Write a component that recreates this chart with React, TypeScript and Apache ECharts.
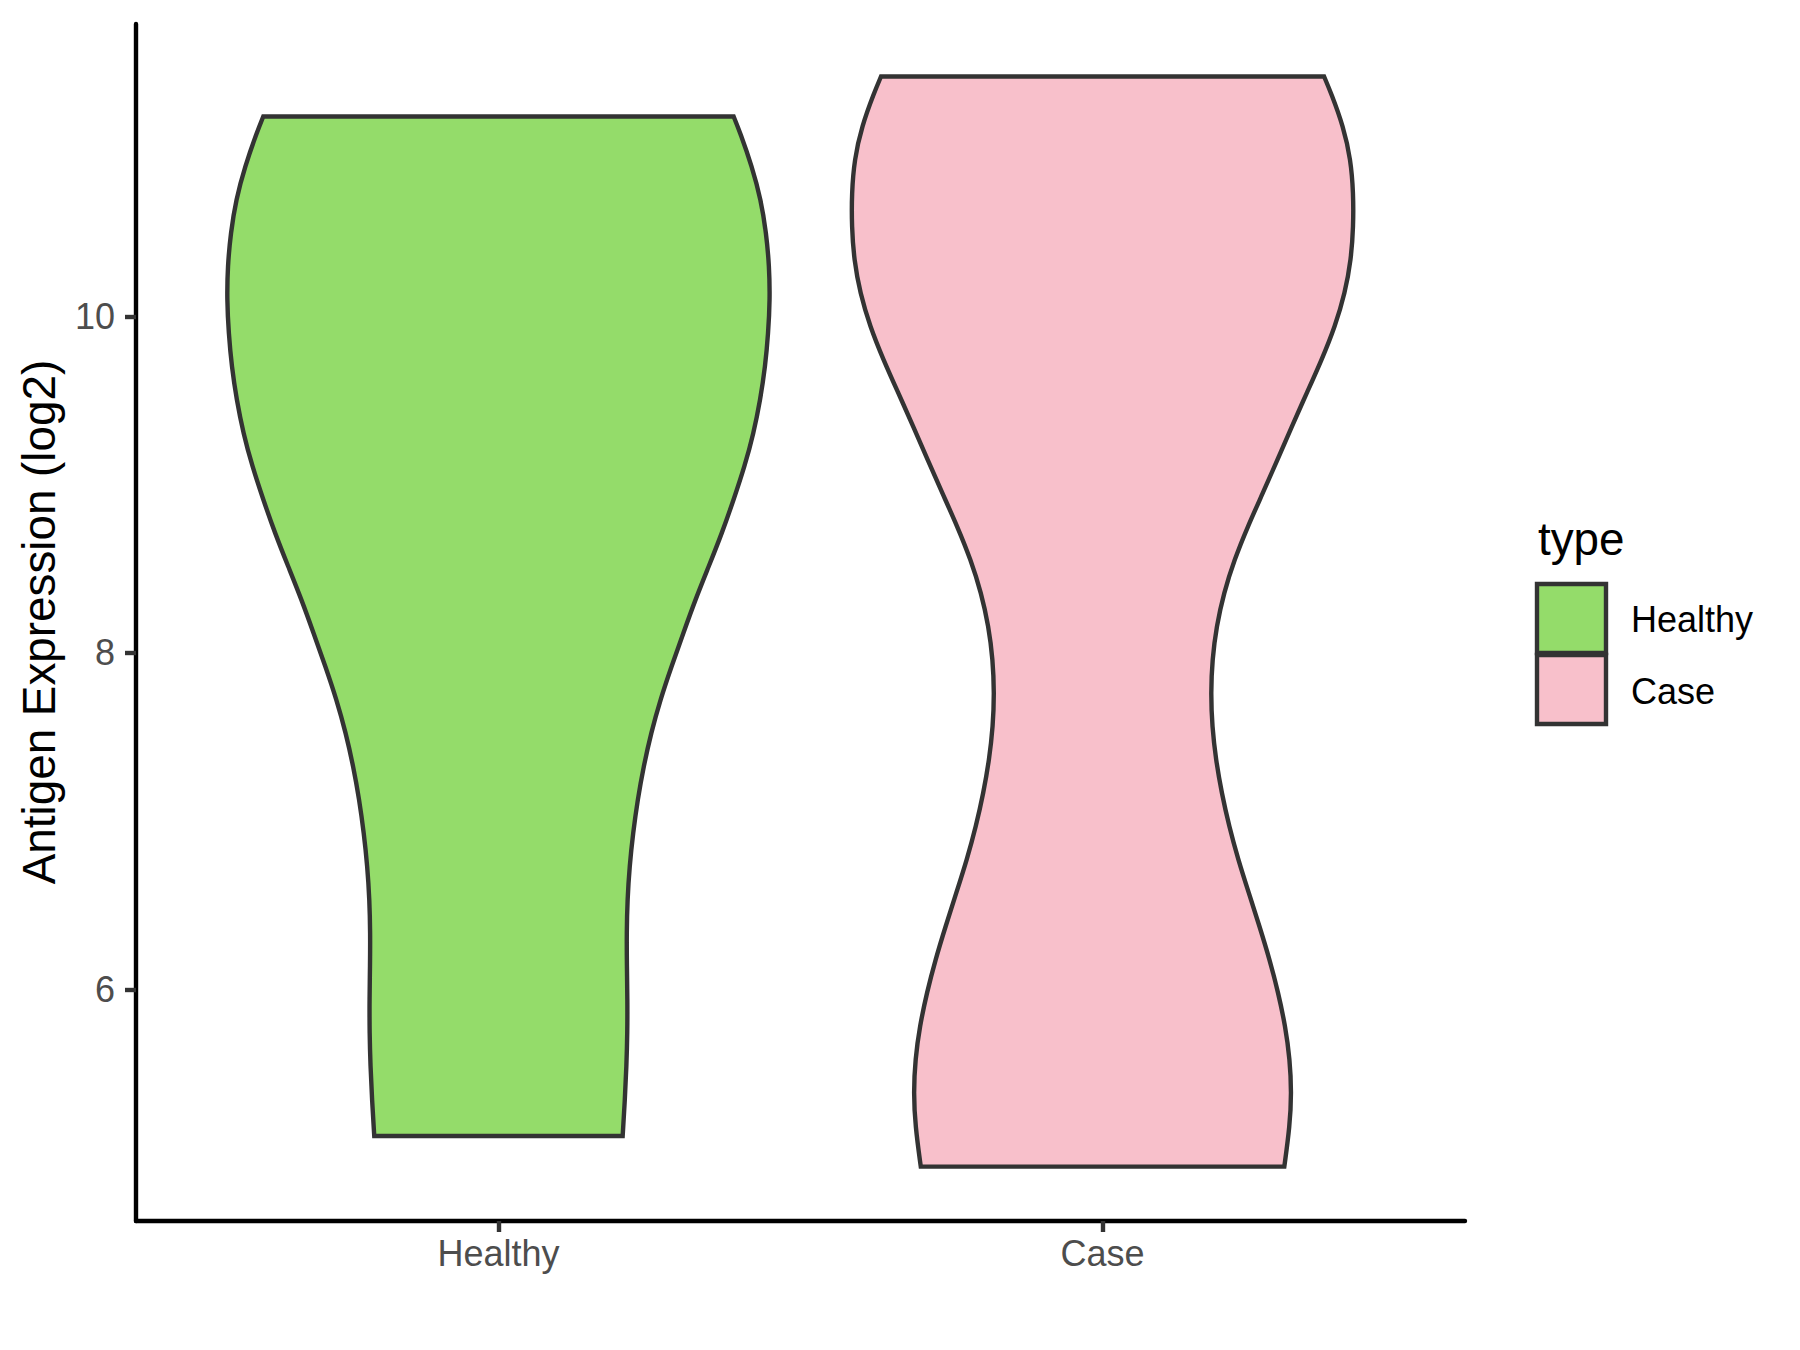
import React, { useEffect, useRef } from "react";
import * as echarts from "echarts";

// ---- data ----
const categories = ["Healthy", "Case"];
const fillColors = ["#94DC6A", "#F8C0CB"];
const yTickValues = [6, 8, 10];
const yTitle = "Antigen Expression (log2)";
const legendTitle = "type";

// violin outline: y values (log2 expression) and half-widths (in category units)
const healthyY = [11.188, 11.09, 10.891, 10.693, 10.495, 10.297, 10.099, 9.901, 9.702, 9.504, 9.306, 9.108, 8.91, 8.712, 8.513, 8.315, 8.117, 7.919, 7.721, 7.523, 7.325, 7.127, 6.929, 6.731, 6.533, 6.335, 6.137, 5.939, 5.741, 5.543, 5.345, 5.128];
const healthyHalfWidth = [0.3893, 0.4003, 0.4196, 0.4345, 0.4433, 0.4483, 0.4494, 0.4466, 0.4416, 0.4334, 0.4224, 0.4075, 0.3893, 0.37, 0.348, 0.3258, 0.306, 0.2864, 0.2679, 0.2526, 0.2403, 0.2304, 0.2228, 0.217, 0.2135, 0.2122, 0.2126, 0.2135, 0.2134, 0.2119, 0.2093, 0.2056];
const caseY = [11.426, 11.328, 11.129, 10.931, 10.733, 10.534, 10.337, 10.139, 9.94, 9.742, 9.544, 9.345, 9.147, 8.949, 8.751, 8.553, 8.355, 8.157, 7.959, 7.761, 7.563, 7.365, 7.167, 6.969, 6.771, 6.573, 6.375, 6.177, 5.979, 5.781, 5.583, 5.385, 5.187, 4.946];
const caseHalfWidth = [0.3667, 0.3783, 0.3986, 0.4109, 0.4152, 0.4152, 0.4114, 0.4014, 0.3849, 0.3628, 0.338, 0.3132, 0.2895, 0.2652, 0.2403, 0.2181, 0.2007, 0.1886, 0.1816, 0.1793, 0.1814, 0.1876, 0.1972, 0.2095, 0.2245, 0.2421, 0.2598, 0.2766, 0.2909, 0.3026, 0.3101, 0.3128, 0.31, 0.3009];

const profiles = [
  { y: healthyY, w: healthyHalfWidth },
  { y: caseY, w: caseHalfWidth },
];

const FONT = "'Liberation Sans', Arial, Helvetica, sans-serif";

// uniform cubic B-spline through the outline's control points (ends clamped)
function bsplineSegments(P: number[][]): string {
  const Q = [P[0], P[0], ...P, P[P.length - 1], P[P.length - 1]];
  let d = "";
  for (let i = 1; i < Q.length - 2; i++) {
    const p0 = Q[i - 1];
    const p1 = Q[i];
    const p2 = Q[i + 1];
    const p3 = Q[i + 2];
    const b1x = (2 * p1[0] + p2[0]) / 3;
    const b1y = (2 * p1[1] + p2[1]) / 3;
    const b2x = (p1[0] + 2 * p2[0]) / 3;
    const b2y = (p1[1] + 2 * p2[1]) / 3;
    const b3x = (p1[0] + 4 * p2[0] + p3[0]) / 6;
    const b3y = (p1[1] + 4 * p2[1] + p3[1]) / 6;
    d += ` C ${b1x} ${b1y} ${b2x} ${b2y} ${b3x} ${b3y}`;
  }
  return d;
}

function makeRenderItem(k: number) {
  return (params: any, api: any) => {
    const center = api.value(0);
    const prof = profiles[k];
    const L = prof.y.map((y, i) => api.coord([center - prof.w[i], y]));
    const R = prof.y.map((y, i) => api.coord([center + prof.w[i], y]));
    const Rrev = R.slice().reverse();
    let d = `M ${R[0][0]} ${R[0][1]} L ${L[0][0]} ${L[0][1]}`;
    d += bsplineSegments(L);
    d += ` L ${Rrev[0][0]} ${Rrev[0][1]}`;
    d += bsplineSegments(Rrev);
    d += " Z";
    return {
      type: "path",
      shape: { pathData: d },
      style: { fill: fillColors[k], stroke: "#333333", lineWidth: 4.4, lineJoin: "miter" },
    };
  };
}

export default function App() {
  const ref = useRef<HTMLDivElement>(null);
  useEffect(() => {
    if (!ref.current) return;
    const chart = echarts.init(ref.current, null, { renderer: "svg" });
    const option: any = {
      animation: false,
      backgroundColor: "#ffffff",
      grid: { left: 136, right: 335, top: 24, bottom: 129, containLabel: false },
      xAxis: {
        type: "value",
        min: 0.4,
        max: 2.6,
        splitLine: { show: false },
        axisLine: { show: true, lineStyle: { color: "#000000", width: 4.4 } },
        axisTick: {
          show: true,
          length: 11,
          customValues: [1, 2],
          lineStyle: { color: "#333333", width: 4.4 },
        },
        axisLabel: {
          customValues: [1, 2],
          formatter: (v: number) => categories[Math.round(v) - 1] || "",
          color: "#4D4D4D",
          fontSize: 36,
          fontFamily: FONT,
          margin: 14,
        },
      },
      yAxis: {
        type: "value",
        min: 4.623,
        max: 11.738,
        splitLine: { show: false },
        axisLine: { show: true, lineStyle: { color: "#000000", width: 4.4 } },
        axisTick: {
          show: true,
          length: 11,
          customValues: yTickValues,
          lineStyle: { color: "#333333", width: 4.4 },
        },
        axisLabel: {
          customValues: yTickValues,
          color: "#4D4D4D",
          fontSize: 36,
          fontFamily: FONT,
          margin: 21,
        },
      },
      series: categories.map((name, k) => ({
        type: "custom",
        name,
        renderItem: makeRenderItem(k),
        data: [[k + 1, 8]],
        clip: false,
      })),
      graphic: [
        {
          type: "text",
          x: 39,
          y: 622,
          rotation: Math.PI / 2,
          style: {
            text: yTitle,
            fill: "#000000",
            fontSize: 45.8,
            fontFamily: FONT,
            align: "center",
            verticalAlign: "middle",
          },
        },
        {
          type: "text",
          x: 1538,
          y: 539,
          style: {
            text: legendTitle,
            fill: "#000000",
            fontSize: 45.8,
            fontFamily: FONT,
            align: "left",
            verticalAlign: "middle",
          },
        },
        ...categories.flatMap((name, k) => [
          {
            type: "rect",
            shape: { x: 1537, y: 584 + k * 71, width: 69, height: 69 },
            style: { fill: fillColors[k], stroke: "#333333", lineWidth: 4.4 },
          },
          {
            type: "text",
            x: 1631,
            y: 619 + k * 72,
            style: {
              text: name,
              fill: "#000000",
              fontSize: 36,
              fontFamily: FONT,
              align: "left",
              verticalAlign: "middle",
            },
          },
        ]),
      ],
    };
    chart.setOption(option);
    return () => chart.dispose();
  }, []);
  return (
    <div
      ref={ref}
      style={{ position: "fixed", left: 0, top: 0, width: 1800, height: 1350, background: "#fff" }}
    />
  );
}
